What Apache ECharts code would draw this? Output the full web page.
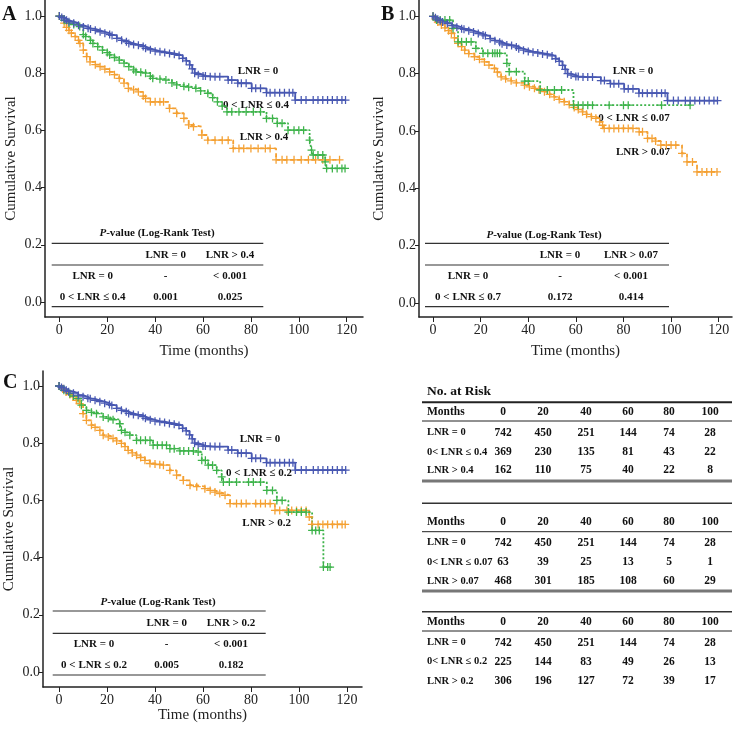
<!DOCTYPE html>
<html><head><meta charset="utf-8">
<script src="https://cdn.jsdelivr.net/npm/echarts@6/dist/echarts.min.js"></script>
<style>html,body{margin:0;padding:0;background:#fff}#c{width:736px;height:731px}</style>
</head><body><div id="c"></div><script>
// ---------- DATA ----------
const xTicks = [0, 20, 40, 60, 80, 100, 120];
const yTicks = [0, 0.2, 0.4, 0.6, 0.8, 1.0];

// LNR = 0 group (same cohort in all panels): [months, survival]
const kmLNR0 = [[0,1.0],[1,0.995],[2,0.99],[3,0.985],[4,0.98],[6,0.975],[8,0.968],[10,0.962],[12,0.957],[13,0.955],[15,0.95],[17,0.945],[19,0.94],[21,0.935],[22,0.932],[24,0.922],[26,0.915],[28,0.91],[29,0.904],[31,0.9],[33,0.898],[35,0.893],[36,0.887],[38,0.882],[40,0.877],[42,0.875],[44,0.872],[46,0.869],[48,0.866],[50,0.862],[51.5,0.852],[53,0.843],[54.4,0.829],[55.5,0.815],[56.5,0.8],[58,0.795],[60,0.79],[61,0.79],[63,0.788],[65,0.788],[67,0.788],[70.5,0.776],[72,0.776],[74.5,0.765],[76,0.765],[78,0.765],[80.3,0.747],[82,0.747],[84,0.747],[86.5,0.732],[88,0.732],[90,0.732],[92,0.732],[94,0.732],[96,0.732],[97.5,0.732],[98.5,0.706],[101,0.706],[103,0.706],[106,0.706],[108,0.706],[110,0.706],[112,0.706],[114,0.706],[116,0.706],[118,0.706],[119.5,0.706]];

// Panel A
const kmA_mid = [[0,1.0],[2,0.985],[4,0.975],[6,0.97],[8.5,0.963],[10,0.935],[11,0.928],[13,0.915],[14,0.904],[16,0.893],[18,0.881],[20,0.872],[21,0.864],[23,0.855],[25,0.846],[27,0.835],[29,0.823],[31,0.812],[32,0.805],[34,0.803],[36,0.8],[38,0.79],[39,0.782],[42,0.779],[44.5,0.776],[47,0.766],[49,0.759],[52,0.754],[54,0.751],[57,0.747],[59,0.738],[62,0.73],[64,0.715],[66,0.7],[68,0.685],[70,0.665],[72,0.665],[75,0.665],[78,0.665],[81,0.665],[84,0.665],[86.5,0.642],[89,0.642],[91,0.625],[93,0.625],[95.5,0.601],[98,0.601],[100,0.601],[102,0.601],[104.5,0.566],[105.3,0.531],[106,0.514],[108,0.514],[110,0.514],[111,0.49],[111.6,0.467],[114,0.467],[116,0.467],[118,0.467],[119.3,0.467]];
const kmA_high = [[0,1.0],[2,0.975],[3,0.96],[4,0.95],[5,0.94],[6.6,0.928],[8,0.915],[8.6,0.904],[10,0.881],[11.4,0.858],[12.8,0.84],[15,0.83],[17,0.823],[19,0.814],[21,0.805],[23,0.795],[25,0.782],[27,0.765],[28.8,0.747],[31,0.742],[33,0.735],[35,0.72],[36,0.712],[38,0.7],[40,0.7],[42,0.7],[43.5,0.7],[46,0.677],[49,0.66],[52,0.642],[54,0.619],[56,0.613],[59.5,0.584],[62,0.566],[65,0.566],[68,0.566],[70.5,0.566],[72.6,0.537],[75,0.537],[77,0.537],[80,0.537],[83,0.537],[86,0.537],[88,0.537],[90.5,0.497],[93,0.497],[95,0.497],[98,0.497],[101,0.497],[104,0.497],[107,0.497],[110,0.497],[113,0.497],[117,0.497]];

// Panel B
const kmB_mid = [[0,1.0],[1.5,0.987],[3,0.987],[5,0.987],[7,0.987],[8.4,0.958],[10.5,0.911],[12,0.911],[14,0.911],[16,0.911],[18,0.888],[21,0.871],[23,0.871],[25,0.871],[26,0.871],[27,0.871],[28,0.871],[31,0.836],[32,0.807],[35,0.807],[38.5,0.774],[40,0.774],[45,0.743],[48,0.743],[51,0.743],[54,0.743],[59,0.69],[61,0.69],[63,0.69],[65,0.69],[67,0.69],[74,0.69],[80,0.69],[82,0.69],[96,0.69],[108,0.69]];
const kmB_high = [[0,1.0],[1,0.99],[2,0.98],[3.5,0.97],[5,0.96],[6.5,0.95],[7.7,0.941],[9,0.925],[10.5,0.906],[12,0.894],[13.3,0.882],[15,0.87],[17.4,0.859],[19.5,0.85],[21.6,0.841],[23.5,0.83],[25.8,0.818],[27,0.805],[28.6,0.789],[30.5,0.782],[32.8,0.775],[35,0.768],[38.4,0.76],[40.5,0.754],[42.6,0.749],[44.5,0.744],[46.8,0.737],[49,0.728],[50.9,0.719],[53,0.71],[55.1,0.702],[57.2,0.692],[59.3,0.682],[61,0.675],[62.8,0.667],[64.5,0.658],[66.5,0.65],[68.4,0.644],[70,0.632],[71.2,0.62],[71.9,0.609],[74,0.609],[76,0.609],[78,0.609],[80,0.609],[82,0.609],[84,0.609],[86.6,0.597],[88,0.597],[90.1,0.574],[92,0.574],[93.5,0.565],[95.7,0.551],[98,0.551],[100,0.551],[102,0.551],[104.6,0.522],[106.7,0.492],[109,0.492],[110.9,0.457],[113,0.457],[115,0.457],[117,0.457],[119.3,0.457]];

// Panel C
const kmC_mid = [[0,1.0],[2,0.985],[4.5,0.973],[6,0.965],[7.9,0.956],[9.3,0.933],[11.4,0.915],[13.5,0.908],[15.6,0.903],[18.4,0.892],[20.5,0.887],[22.5,0.882],[25.3,0.868],[26,0.845],[27.5,0.838],[29.5,0.828],[32.3,0.81],[34,0.81],[36,0.81],[37.9,0.81],[39.2,0.793],[41,0.793],[43,0.793],[44.8,0.793],[46.2,0.781],[48,0.781],[50.4,0.773],[52,0.773],[54,0.773],[56,0.773],[58,0.769],[59.5,0.74],[61,0.74],[62.2,0.723],[64,0.723],[65.7,0.705],[67.8,0.682],[68.5,0.664],[71,0.664],[74,0.664],[79,0.664],[81,0.664],[84,0.664],[86.6,0.635],[89,0.635],[90.8,0.6],[93,0.6],[95.6,0.559],[99,0.559],[101,0.559],[103,0.559],[105.5,0.495],[107,0.495],[108.5,0.495],[110.2,0.367],[112,0.367],[113,0.367]];
const kmC_high = [[0,1.0],[1.5,0.99],[2.9,0.979],[4.5,0.97],[5.8,0.962],[7.2,0.95],[8.6,0.938],[10,0.903],[11.4,0.88],[13.5,0.863],[15,0.855],[17,0.845],[18.4,0.828],[20.5,0.822],[22.5,0.816],[24,0.808],[26,0.799],[27.5,0.788],[28.8,0.775],[30.5,0.766],[32.3,0.758],[34,0.75],[35.8,0.74],[37.9,0.729],[40,0.727],[42,0.725],[43.5,0.723],[46.2,0.705],[49,0.688],[51.8,0.67],[54.6,0.653],[57.4,0.648],[60.8,0.641],[63,0.635],[65,0.629],[67,0.624],[69.2,0.618],[71.3,0.589],[74,0.589],[76,0.589],[78,0.589],[82,0.589],[84,0.589],[86,0.589],[88,0.589],[90,0.565],[92,0.565],[95,0.565],[97,0.565],[99,0.565],[101,0.565],[103,0.565],[104.3,0.542],[105.4,0.516],[108,0.516],[110,0.516],[112,0.516],[114,0.516],[116,0.516],[118,0.516],[119.3,0.516]];

// Curve labels
const curveLabelsA = ['LNR = 0', '0 < LNR \u2264 0.4', 'LNR > 0.4'];
const curveLabelsB = ['LNR = 0', '0 < LNR \u2264 0.07', 'LNR > 0.07'];
const curveLabelsC = ['LNR = 0', '0 < LNR \u2264 0.2', 'LNR > 0.2'];

// P-value tables
const pHeadA = ['LNR = 0', 'LNR > 0.4'];
const pRowsA = [['LNR = 0', '-', '< 0.001'], ['0 < LNR \u2264 0.4', '0.001', '0.025']];
const pHeadB = ['LNR = 0', 'LNR > 0.07'];
const pRowsB = [['LNR = 0', '-', '< 0.001'], ['0 < LNR \u2264 0.7', '0.172', '0.414']];
const pHeadC = ['LNR = 0', 'LNR > 0.2'];
const pRowsC = [['LNR = 0', '-', '< 0.001'], ['0 < LNR \u2264 0.2', '0.005', '0.182']];

// Number at risk
const riskMonths = [0, 20, 40, 60, 80, 100];
const riskLNR0 = [742, 450, 251, 144, 74, 28];
const riskA_mid = [369, 230, 135, 81, 43, 22];
const riskA_high = [162, 110, 75, 40, 22, 8];
const riskB_mid = [63, 39, 25, 13, 5, 1];
const riskB_high = [468, 301, 185, 108, 60, 29];
const riskC_mid = [225, 144, 83, 49, 26, 13];
const riskC_high = [306, 196, 127, 72, 39, 17];
const riskLabelsA = ['LNR = 0', '0< LNR \u2264 0.4', 'LNR > 0.4'];
const riskLabelsB = ['LNR = 0', '0< LNR \u2264 0.07', 'LNR > 0.07'];
const riskLabelsC = ['LNR = 0', '0< LNR \u2264 0.2', 'LNR > 0.2'];

// ---------- STYLE ----------
const FONT = "'Liberation Serif','Times New Roman',serif";
const BLUE = '#4858b2', GREEN = '#3db34a', ORANGE = '#f4a032';
const PLUS = 'path://M0,4.2H10V5.8H0Z M4.2,0H5.8V10H4.2Z';
const AX = '#222';

const chart = echarts.init(document.getElementById('c'), null, {renderer: 'canvas'});

const grids = [
  {left: 45, top: 0, width: 318, height: 317},
  {left: 419, top: 0, width: 313, height: 317},
  {left: 43, top: 371, width: 319, height: 316}
];
const xRanges = [[-6, 126.8], [-5.9, 125.6], [-6.7, 126.3]];
const yRanges = [[-0.0524, 1.056], [-0.049, 1.057], [-0.0524, 1.0524]];
const yNameGap = [26, 32, 26];
const xNameGap = [27, 27, 19];

const xAxes = grids.map((g, i) => ({
  type: 'value', gridIndex: i, min: xRanges[i][0], max: xRanges[i][1],
  axisLine: {show: true, onZero: false, lineStyle: {color: AX, width: 1.5}},
  axisTick: {show: true, customValues: xTicks, length: 5, lineStyle: {color: AX, width: 1}},
  axisLabel: {customValues: xTicks, margin: 6, color: '#222', fontFamily: FONT, fontSize: 14},
  splitLine: {show: false},
  name: 'Time (months)', nameLocation: 'middle', nameGap: xNameGap[i],
  nameTextStyle: {color: '#222', fontFamily: FONT, fontSize: 15}
}));
const yAxes = grids.map((g, i) => ({
  type: 'value', gridIndex: i, min: yRanges[i][0], max: yRanges[i][1],
  axisLine: {show: true, onZero: false, lineStyle: {color: AX, width: 1.5}},
  axisTick: {show: true, customValues: yTicks, length: 4, lineStyle: {color: AX, width: 1}},
  axisLabel: {customValues: yTicks, margin: 3, color: '#222', fontFamily: FONT, fontSize: 14,
    formatter: v => v.toFixed(1)},
  splitLine: {show: false},
  name: 'Cumulative Survival', nameLocation: 'middle', nameGap: yNameGap[i],
  nameTextStyle: {color: '#222', fontFamily: FONT, fontSize: 15}
}));

function km(data, idx, color, dash) {
  return {
    type: 'line', xAxisIndex: idx, yAxisIndex: idx, data: data, step: 'end',
    symbol: PLUS, symbolSize: 8, showAllSymbol: true, showSymbol: true,
    itemStyle: {color: color}, lineStyle: {color: color, width: 1.8, type: dash},
    emphasis: {disabled: true}, silent: true, animation: false
  };
}
const series = [
  km(kmA_high, 0, ORANGE, [4, 3]), km(kmA_mid, 0, GREEN, [2, 2]), km(kmLNR0, 0, BLUE, 'solid'),
  km(kmB_high, 1, ORANGE, [4, 3]), km(kmB_mid, 1, GREEN, [2, 2]), km(kmLNR0, 1, BLUE, 'solid'),
  km(kmC_high, 2, ORANGE, [4, 3]), km(kmC_mid, 2, GREEN, [2, 2]), km(kmLNR0, 2, BLUE, 'solid')
];

// ---------- GRAPHIC (texts & table rules) ----------
const G = [];
function txt(x, y, s, opt) {
  opt = opt || {};
  G.push({type: 'text', x: x, y: y, silent: true, style: Object.assign({
    text: s, fill: '#111', font: (opt.weight || 'bold') + ' ' + (opt.size || 12) + 'px ' + FONT,
    textAlign: opt.align || 'center', textVerticalAlign: 'middle'
  }, opt.rich ? {rich: opt.rich} : {})});
}
function hline(x1, x2, y, w, c) {
  G.push({type: 'line', silent: true, shape: {x1: x1, y1: y, x2: x2, y2: y},
    style: {stroke: c || '#333', lineWidth: w || 1}});
}
// panel letters
txt(2, 15, 'A', {size: 20, align: 'left'});
txt(381, 15, 'B', {size: 20, align: 'left'});
txt(3, 383, 'C', {size: 20, align: 'left'});
// curve labels
[[258, 70.7], [256, 105], [264, 136.7]].forEach((p, i) => txt(p[0], p[1], curveLabelsA[i], {size: 11}));
[[633, 70.7], [634, 118.3], [643, 152.3]].forEach((p, i) => txt(p[0], p[1], curveLabelsB[i], {size: 11}));
[[260, 439], [259, 473.3], [266.7, 523.3]].forEach((p, i) => txt(p[0], p[1], curveLabelsC[i], {size: 11}));

// p-value tables
function pTable(cfg, head, rows) {
  txt(cfg.tx, cfg.ty, '{i|P}-value (Log-Rank Test)', {size: 11, rich: {
    i: {font: 'italic bold 11px ' + FONT, fill: '#111'}}});
  hline(cfg.x1, cfg.x2, cfg.l1, 1.2);
  hline(cfg.x1, cfg.x2, cfg.l2, 1.2);
  hline(cfg.x1, cfg.x2, cfg.l3, 1.2);
  txt(cfg.c1, cfg.hy, head[0], {size: 11});
  txt(cfg.c2, cfg.hy, head[1], {size: 11});
  rows.forEach((r, i) => {
    txt(cfg.c0, cfg.ry[i], r[0], {size: 11});
    txt(cfg.c1, cfg.ry[i], r[1], {size: 11});
    txt(cfg.c2, cfg.ry[i], r[2], {size: 11});
  });
}
pTable({tx: 157, ty: 233, x1: 51.7, x2: 263.3, l1: 243.3, l2: 265, l3: 306.7, hy: 255,
  c0: 92.7, c1: 165.7, c2: 230, ry: [276, 296.7]}, pHeadA, pRowsA);
pTable({tx: 544, ty: 235, x1: 425, x2: 669, l1: 243.3, l2: 265, l3: 306.7, hy: 255.3,
  c0: 468, c1: 560, c2: 631, ry: [276, 296.7]}, pHeadB, pRowsB);
pTable({tx: 158, ty: 601.7, x1: 52.7, x2: 265.7, l1: 611, l2: 633.3, l3: 675, hy: 622.7,
  c0: 94, c1: 166.7, c2: 231, ry: [644, 665]}, pHeadC, pRowsC);

// number-at-risk tables
const colX = [503, 543, 586, 628, 669, 710];
const TL = 422, TR = 732;
txt(427, 391.7, 'No. at Risk', {size: 13.5, align: 'left'});
function riskTable(top, mid, bottom, monthsY, rowsY, labels, rows) {
  if (top) hline(TL, TR, top.y, top.w, top.c);
  hline(TL, TR, mid, 1, '#222');
  if (bottom) hline(TL, TR, bottom.y, bottom.w, bottom.c);
  txt(427, monthsY, 'Months', {size: 11.5, align: 'left'});
  riskMonths.forEach((m, j) => txt(colX[j], monthsY, String(m), {size: 11.5}));
  rows.forEach((r, i) => {
    txt(427, rowsY[i], labels[i], {size: 10.5, align: 'left'});
    r.forEach((v, j) => txt(colX[j], rowsY[i], String(v), {size: 11.5}));
  });
}
riskTable({y: 402.3, w: 2, c: '#222'}, 421, {y: 481, w: 3, c: '#777'}, 412.3, [432.7, 452, 470.5],
  riskLabelsA, [riskLNR0, riskA_mid, riskA_high]);
riskTable({y: 503.3, w: 1.5, c: '#333'}, 531.7, {y: 591, w: 3, c: '#777'}, 521.7, [542.7, 562, 581],
  riskLabelsB, [riskLNR0, riskB_mid, riskB_high]);
riskTable({y: 611.7, w: 1.5, c: '#333'}, 631, null, 622.3, [642.7, 661.7, 681],
  riskLabelsC, [riskLNR0, riskC_mid, riskC_high]);

chart.setOption({
  animation: false,
  backgroundColor: '#fff',
  grid: grids.map(g => Object.assign({containLabel: false}, g)),
  xAxis: xAxes, yAxis: yAxes, series: series, graphic: {elements: G}
});
</script></body></html>
